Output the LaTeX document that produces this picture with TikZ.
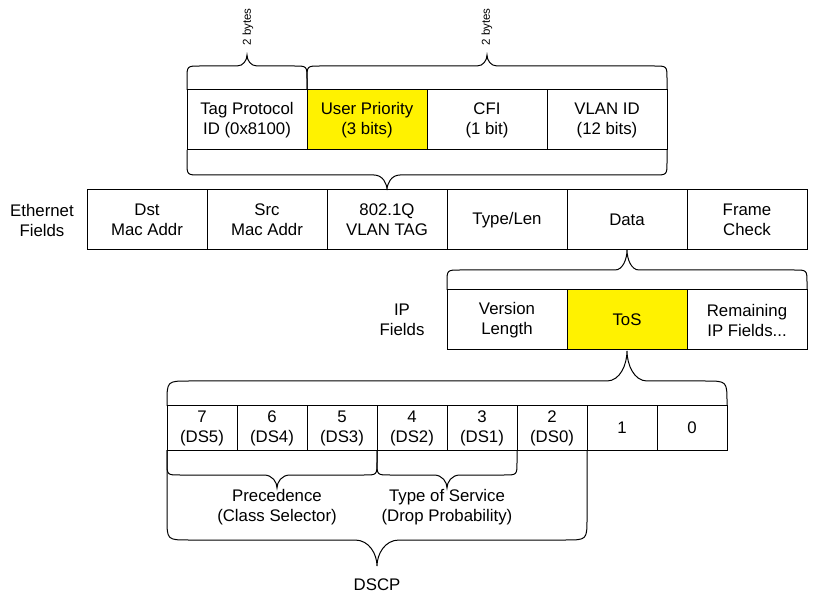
\documentclass[tikz,border=0pt]{standalone}
\usepackage{fontspec}
\setmainfont{Liberation Sans}
\newcommand\curlybrace[8]{%
  % #1 x1, #2 x2, #3 xm, #4 ybase, #5 yh, #6 ytip, #7 corner, #8 tip half width
  \pgfmathsetmacro\cbya{#5+#7*sign(#4-#5)}%
  \pgfmathsetmacro\cbyc{#5+0.55*(#6-#5)}%
  \draw[brace] (#1,#4) -- (#1,\cbya) .. controls (#1,#5) .. (#1+#7,#5)
    -- (#3-#8,#5) .. controls (#3-0.35*#8,#5) and (#3,\cbyc) .. (#3,#6)
    .. controls (#3,\cbyc) and (#3+0.35*#8,#5) .. (#3+#8,#5)
    -- (#2-#7,#5) .. controls (#2,#5) .. (#2,\cbya) -- (#2,#4);%
}
\tikzset{
  cell/.style={draw, line width=1pt, align=center, inner sep=0pt, minimum height=60pt, minimum width=120pt},
  bit/.style={draw, line width=1pt, align=center, inner sep=0pt, minimum height=44pt, minimum width=70pt},
  hl/.style={fill=yellow},
  brace/.style={line width=1pt},
  lbl/.style={align=center, inner sep=0pt},
  small/.style={font=\fontsize{11.5}{13}\selectfont, inner sep=0pt}
}
\begin{document}
\begin{tikzpicture}[x=1pt, y=-1pt, font=\fontsize{16.8}{20}\selectfont]
\useasboundingbox (0,0) rectangle (822,601);
% 802.1Q tag
\node[cell] (tpid) at (247,120) {Tag Protocol\\ID (0x8100)};
\node[cell,hl] (up) at (367,120) {User Priority\\(3 bits)};
\node[cell] (cfi) at (487,120) {CFI\\(1 bit)};
\node[cell] (vid) at (607,120) {VLAN ID\\(12 bits)};
\node[small, rotate=90] (b1) at (248,27) {2 bytes};
\node[small, rotate=90] (b2) at (487,27) {2 bytes};
\curlybrace{187}{307}{247}{90}{66}{55}{13}{10}
\curlybrace{307}{667}{487}{90}{66}{55}{13}{10}
\curlybrace{187}{667}{387}{150}{175}{190}{13}{13}
% Ethernet
\node[lbl] (ethl) at (42,220) {Ethernet\\Fields};
\node[cell] (dst) at (147,220) {Dst\\Mac Addr};
\node[cell] (src) at (267,220) {Src\\Mac Addr};
\node[cell] (tag) at (387,220) {802.1Q\\VLAN TAG};
\node[cell] (typ) at (507,220) {Type/Len};
\node[cell] (data) at (627,220) {Data};
\node[cell] (fcs) at (747,220) {Frame\\Check};
\curlybrace{447}{807}{627}{290}{270}{250}{13}{12}
% IP
\node[lbl] (ipl) at (402,320) {IP\\Fields};
\node[cell] (ver) at (507,320) {Version\\Length};
\node[cell,hl] (tos) at (627,320) {ToS};
\node[cell] (rem) at (747,320) {Remaining\\IP Fields...};
\curlybrace{167}{727}{627}{406}{381}{351}{22}{20}
% bits
\node[bit] (b7) at (202,428) {7\\(DS5)};
\node[bit] (b6) at (272,428) {6\\(DS4)};
\node[bit] (b5) at (342,428) {5\\(DS3)};
\node[bit] (b4) at (412,428) {4\\(DS2)};
\node[bit] (b3) at (482,428) {3\\(DS1)};
\node[bit] (b2b) at (552,428) {2\\(DS0)};
\node[bit] (b1b) at (622,428) {1};
\node[bit] (b0) at (692,428) {0};
\curlybrace{167}{377}{277}{450}{475}{488}{13}{13}
\curlybrace{377}{517}{447}{450}{475}{488}{13}{13}
\curlybrace{167}{587}{377}{450}{540}{566}{22}{22}
\node[lbl] (prec) at (277,507) {Precedence\\(Class Selector)};
\node[lbl] (tosl) at (447,507) {Type of Service\\(Drop Probability)};
\node[lbl] (dscp) at (377,585) {DSCP};
\end{tikzpicture}
\end{document}
